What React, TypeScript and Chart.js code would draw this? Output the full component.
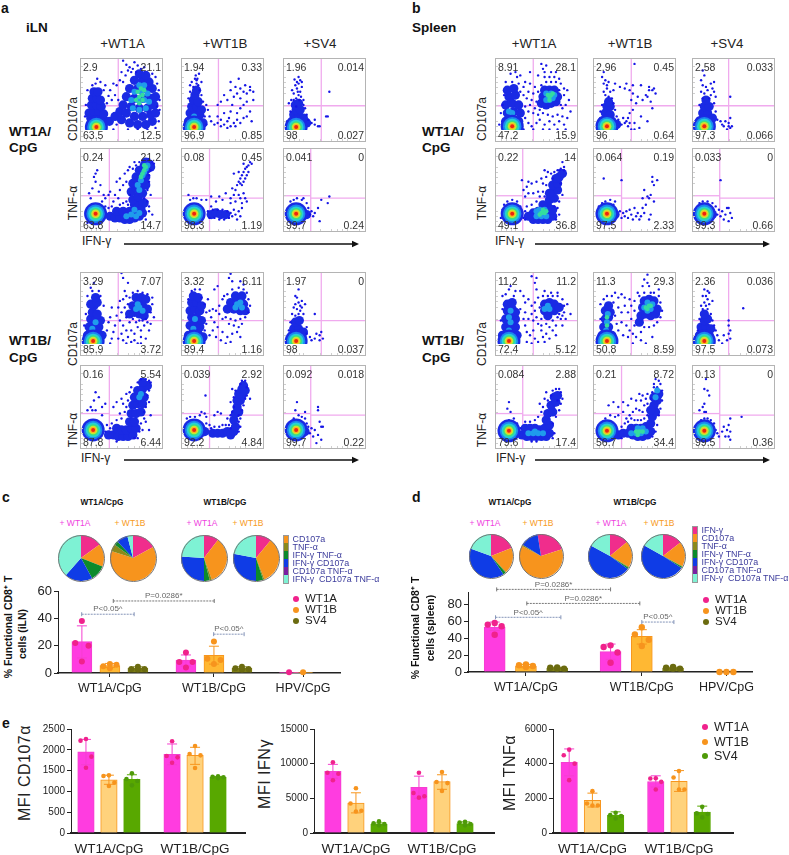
import React, { useEffect, useRef } from "react";
import { Chart, registerables } from "chart.js";
Chart.register(...registerables);

/* ---------- flow cytometry panels: x,y pairs on a 0-100 plot scale ---------- */
const a11Q = ["2.9", "21.1", "63.5", "12.5"];
const a11Gate = [46, 43, 43];
const a11Core = [19, 17];
const a11Cloud = [12,28,18,28,25,28,30,24,10,34,16,36,22,36,28,33,13,44,19,44,25,42,14,52,20,52,16,60,21,60,24,50,35,24,42,30,50,26,60,22,70,20,80,20,88,24,48,36,56,34,66,30,76,30,86,32,92,34,52,44,62,42,72,40,82,40,90,44,56,54,66,52,76,52,86,52,92,54,60,64,70,64,80,64,88,64,66,74,76,74,84,72,72,82,80,80];
const a11Mid = [64,40,72,38,80,40,62,50,70,50,78,50,84,48,66,60,74,60,82,58,72,68,78,68];
const a11Warm = [68,50,72,54,76,56,70,60,74,64,76,50,72,46,78,62];
const a11Dots = [52,98,56,93,60,90,64,88,70,92,66,96,74,88,78,90,58,86,50,84,55,80,62,84,68,84,48,74,52,72,44,68,88,82,92,78,94,70,96,62,97,50,94,42,97,38,40,70,36,62,34,55,30,68,24,72,18,70,14,68,20,76,8,62,6,44,5,30,38,50,42,56,46,50,58,14,70,14,82,14,92,16,96,24,44,20,40,14,28,62,32,46];

const a12Q = ["1.94", "0.33", "96.9", "0.85"];
const a12Gate = [45, 43, 43];
const a12Core = [15, 17];
const a12Cloud = [8,24,14,28,20,26,26,22,10,34,16,36,22,32,12,42,18,42,24,38,14,50,20,48,16,56,18,62];
const a12Mid = [15,30];
const a12Warm: number[] = [];
const a12Dots = [14,66,18,70,12,72,16,76,20,68,22,62,10,60,8,52,24,56,26,48,10,68,19,76,24,72,17,80,21,82,18,74,36,24,40,20,44,22,48,26,52,20,56,24,60,18,64,22,68,26,72,22,76,28,48,18,56,16,44,30,52,34,60,36,68,34,72,40,76,44,80,48,84,36,80,30,86,24,88,60,84,62,80,58,76,60,72,64,68,58,64,54,60,62,56,50,52,56,48,48,44,44,60,72,70,76,66,66,78,68,84,66,88,50,62,44,72,52,58,28,66,18,34,30,32,38,30,44,28,30,30,20];

const a13Q = ["1.96", "0.014", "98", "0.027"];
const a13Gate = [46, 43, 43];
const a13Core = [15, 17];
const a13Cloud = [10,24,16,26,22,22,28,22,12,32,18,32,24,28,15,38,20,38,14,44,18,46];
const a13Mid: number[] = [];
const a13Warm: number[] = [];
const a13Dots = [15,52,18,56,12,58,20,60,16,64,14,68,18,70,22,66,10,62,24,50,26,40,28,32,30,26,34,22,38,20,42,18,38,26,6,46,8,36,4,24,16,72,20,74,13,75,18,78,22,72,17,60,21,54,9,50,12,50,24,44,56,60,52,30,54,30,44,18,15,42,19,50];

const a21Q = ["0.24", "21.2", "63.8", "14.7"];
const a21Gate = [35, 43, 40];
const a21Core = [18, 21];
const a21Cloud = [36,18,42,16,48,16,54,14,60,14,66,16,72,18,76,22,44,24,52,24,60,24,68,24,74,28,78,34,72,36,66,32,64,38,70,42,76,46,62,48,68,52,74,54,80,56,64,58,70,60,76,62,80,66,68,66,74,70,78,72,82,76,72,74,78,80,84,82,86,78,80,84];
const a21Mid = [62,20,68,18,56,18,72,22,74,62,76,68,78,72,80,76,70,56,72,50,66,26,82,80];
const a21Warm = [76,70,78,74,80,78,74,66,78,80];
const a21Dots = [84,88,88,84,90,82,86,74,84,68,84,60,82,50,78,40,82,36,84,30,80,14,46,40,42,44,48,50,52,56,56,60,48,64,44,60,54,70,58,74,60,78,64,76,68,80,66,84,72,84,76,86,18,60,16,66,18,70,14,52,22,48,24,56,28,44,30,40,10,46,12,40,26,36,30,30,34,28,38,30,40,36,34,44,36,48,20,74,8,10,84,24,88,20,86,44,60,44,56,36,52,34,48,32,58,32];

const a22Q = ["0.08", "0.45", "98.3", "1.19"];
const a22Gate = [34, 43, 40];
const a22Core = [15, 21];
const a22Cloud = [36,20,42,22,48,20,54,20];
const a22Mid: number[] = [];
const a22Warm: number[] = [];
const a22Dots = [32,24,34,16,38,26,40,16,44,26,46,14,50,26,52,14,56,24,58,16,60,22,62,18,64,26,66,20,68,14,70,24,72,18,74,28,36,30,60,40,64,44,66,50,62,52,68,56,70,60,72,64,74,68,76,72,78,76,80,78,82,80,84,84,86,82,72,58,74,56,76,60,78,64,80,68,82,72,70,44,72,40,76,46,78,40,74,34,80,36,66,36,60,34,54,46,50,38,46,42,42,36,64,70,70,72,76,82,30,38,24,38,14,40,18,40,10,38,8,44,36,42];

const a23Q = ["0.041", "0", "99.7", "0.24"];
const a23Gate = [33, 43, 40];
const a23Core = [15, 21];
const a23Cloud = [28,20];
const a23Mid: number[] = [];
const a23Warm: number[] = [];
const a23Dots = [28,22,32,20,34,24,30,28,36,18,38,22,28,34,22,38,16,40,12,38,8,36,24,40,42,28,46,38,44,12,56,42,54,34];

const a31Q = ["3.29", "7.07", "85.9", "3.72"];
const a31Gate = [46, 42, 42];
const a31Core = [15, 17];
const a31Cloud = [8,24,14,26,20,26,26,24,10,34,16,36,22,34,12,44,18,44,24,42,14,52,20,50,16,60,12,62,20,64,18,70,66,52,72,50,78,48,64,60,70,62,76,60,82,56,68,70,74,70,80,68,60,50];
const a31Mid = [16,26,14,32,18,40,68,56,72,58,76,54,70,62];
const a31Warm: number[] = [];
const a31Dots = [44,48,48,42,52,36,56,30,50,26,46,20,52,18,58,22,62,30,66,26,70,34,74,30,78,36,82,40,86,38,60,40,64,44,68,40,72,42,76,42,80,44,56,46,50,52,46,58,54,58,58,62,42,36,40,28,38,20,36,14,56,14,62,16,70,14,66,18,74,22,60,70,56,72,54,78,64,76,70,78,76,76,82,74,88,70,88,62,86,52,90,46,84,30,74,14,80,20,52,68,48,66,36,46,38,58,32,30,34,40,8,72,22,78,14,78,12,82,16,88,24,72,28,60,6,50,4,36,52,94,58,88,50,100];

const a32Q = ["3.32", "6.11", "89.4", "1.16"];
const a32Gate = [45, 42, 42];
const a32Core = [15, 17];
const a32Cloud = [8,24,14,28,20,26,26,22,10,36,16,38,22,34,12,46,18,46,24,42,10,54,16,56,22,54,12,64,18,64,24,60,14,72,20,70,56,56,64,56,72,54,78,54,60,64,68,64,76,62,66,72,74,72];
const a32Mid = [14,32,16,44,68,62,72,64,66,58,74,58];
const a32Warm: number[] = [];
const a32Dots = [30,52,34,54,38,56,42,54,46,60,50,68,52,72,46,50,50,44,54,46,60,44,66,42,72,44,78,46,82,52,84,60,82,68,80,76,76,80,70,82,62,80,56,74,58,38,64,36,70,34,74,38,68,28,62,26,56,22,50,28,44,34,40,40,36,46,38,30,42,22,34,24,48,18,54,14,72,22,60,16,28,30,30,38,24,70,28,62,22,80,16,80,12,78,8,68,58,94,60,99,62,90,44,84,40,80,72,90,76,86,32,68];

const a33Q = ["1.97", "0", "98", "0.037"];
const a33Gate = [46, 42, 42];
const a33Core = [15, 17];
const a33Cloud = [10,24,16,26,22,22,12,32,18,32,24,28,14,40,19,42];
const a33Mid: number[] = [];
const a33Warm: number[] = [];
const a33Dots = [14,48,18,50,20,54,16,56,12,58,22,58,24,50,14,62,18,64,22,66,20,60,26,62,10,50,8,40,6,30,28,34,28,26,32,22,34,18,38,20,44,24,46,28,44,18,40,26,16,70,18,80,14,72,38,50,48,20];

const a41Q = ["0.16", "5.54", "87.8", "6.44"];
const a41Gate = [35, 42, 40];
const a41Core = [15, 22];
const a41Cloud = [34,16,40,16,46,14,52,14,58,14,64,16,44,24,50,22,56,22,62,24,68,24,60,32,66,32,62,42,68,42,74,44,64,52,70,54,76,54,66,62,72,64,78,62,70,70,76,72,82,76,76,80];
const a41Mid = [72,62,74,66];
const a41Warm: number[] = [];
const a41Dots = [36,24,32,28,30,20,38,30,44,34,50,36,48,42,54,44,56,50,52,54,58,58,50,60,44,56,40,50,56,66,60,68,62,74,70,80,74,84,80,84,84,82,86,80,84,70,82,64,84,56,80,50,78,44,78,36,74,30,72,20,76,22,80,32,86,40,84,22,18,46,14,46,12,50,16,58,22,62,26,50,30,54,18,68,8,46,26,40,66,12,70,12,44,8];

const a42Q = ["0.039", "2.92", "92.2", "4.84"];
const a42Gate = [34, 42, 40];
const a42Core = [15, 22];
const a42Cloud = [28,20,38,18,44,18,50,18,56,20,60,16,64,20,66,26,64,34,66,42,68,50,70,44,68,58,72,58,74,64,70,66,74,72,76,76,78,70];
const a42Mid: number[] = [];
const a42Warm: number[] = [];
const a42Dots = [30,30,34,28,36,24,40,26,46,26,50,28,54,28,58,28,60,24,70,20,72,26,70,32,72,36,70,40,64,50,62,44,74,46,76,52,78,60,80,64,80,74,78,82,74,82,72,78,66,70,64,62,60,56,62,72,60,40,56,36,84,60,28,42,22,40,16,38,10,38,6,36,30,38,29,64,24,44,40,40,48,42,44,44];

const a43Q = ["0.092", "0.018", "99.7", "0.22"];
const a43Gate = [33, 42, 40];
const a43Core = [15, 22];
const a43Cloud = [26,20];
const a43Mid: number[] = [];
const a43Warm: number[] = [];
const a43Dots = [12,36,18,40,22,38,26,36,28,30,30,26,32,18,34,24,36,14,38,22,42,16,46,10,48,26,44,32,46,26,16,56,14,46,40,6,26,44,42,46,42,50];

const b11Q = ["8.91", "28.1", "47.2", "15.9"];
const b11Gate = [46, 43, 43];
const b11Core = [20, 18];
const b11Cloud = [12,24,20,26,28,24,14,34,22,36,30,34,12,44,20,46,28,44,16,54,24,56,14,62,22,64,56,46,62,44,68,46,74,48,58,54,64,54,70,56,76,54,60,62,66,62,72,62];
const b11Mid = [62,50,66,50,70,52,62,58,68,58,72,56,16,36,20,34,18,26];
const b11Warm = [66,54,68,56,64,56,70,58,66,50];
const b11Dots = [36,28,40,22,44,18,50,22,54,26,60,20,66,24,72,20,78,24,84,20,88,28,82,30,76,32,70,30,64,32,58,34,52,32,46,34,40,36,36,42,42,44,48,40,54,38,50,48,44,50,38,52,34,56,40,60,46,58,52,60,48,66,42,70,34,66,30,60,28,70,20,72,12,72,10,56,8,44,6,34,8,24,36,72,82,40,86,44,90,50,84,56,80,44,78,62,84,64,88,62,80,70,74,72,68,72,62,72,56,68,60,78,66,78,72,78,78,76,58,88,62,92,56,94,60,84,68,84,74,84,52,80,26,78,18,82,24,84,30,80,92,36,66,14,58,14,76,14,86,14,46,14,34,14,4,20,42,84];

const b12Q = ["2.96", "0.45", "96", "0.64"];
const b12Gate = [46, 43, 43];
const b12Core = [16, 18];
const b12Cloud = [10,24,16,26,22,24,28,20,14,34,20,32,16,42,20,42,18,48];
const b12Mid: number[] = [];
const b12Warm: number[] = [];
const b12Dots = [18,54,14,56,22,52,24,46,20,60,12,60,16,64,26,38,28,30,30,26,10,44,8,36,8,28,12,70,14,74,10,78,12,84,18,72,24,62,26,70,16,68,32,66,38,64,40,70,44,62,48,58,46,50,52,46,48,38,44,34,40,24,38,22,42,18,46,14,50,22,44,22,42,28,34,20,36,28,50,14,56,16,66,24,58,30,60,50,54,54,64,56,68,62,70,48,72,40,68,66,72,62,66,54,74,64,76,58,50,94,48,68,58,68];

const b13Q = ["2.58", "0.033", "97.3", "0.066"];
const b13Gate = [44, 43, 43];
const b13Core = [14, 18];
const b13Cloud = [8,24,14,26,20,24,12,34,18,34,24,28,14,42,20,42,16,50];
const b13Mid: number[] = [];
const b13Warm: number[] = [];
const b13Dots = [12,52,20,52,14,58,22,56,10,60,18,62,24,64,22,70,12,68,10,74,14,80,12,86,16,66,26,60,26,46,28,36,30,26,34,24,36,20,38,18,40,24,42,14,44,22,46,16,48,18,46,28,44,18,28,54,46,54,8,44,6,28,26,72];

const b21Q = ["0.22", "14", "49.1", "36.8"];
const b21Gate = [33, 43, 40];
const b21Core = [20, 21];
const b21Cloud = [46,14,52,14,58,14,64,14,46,22,52,24,58,24,64,22,70,18,40,18,70,26,64,30,58,32,66,38,72,40,70,48,76,50,66,46,70,56,76,58,74,64,78,66,82,70];
const b21Mid = [50,18,56,18,62,18,54,26,60,26,50,24];
const b21Warm = [56,22,60,22,58,26,62,24,54,20];
const b21Dots = [34,16,36,24,38,30,30,30,26,36,20,38,14,36,10,32,8,26,6,16,36,14,44,32,50,36,54,42,58,48,62,56,58,58,52,48,46,46,40,46,36,42,34,50,38,54,44,58,50,60,56,64,62,66,68,70,72,72,76,74,80,76,84,78,82,84,84,74,78,74,70,64,64,72,60,74,72,30,76,28,78,36,82,44,80,58,78,20,74,14,40,60,32,62,60,42];

const b22Q = ["0.064", "0.19", "97.5", "2.33"];
const b22Gate = [34, 43, 40];
const b22Core = [16, 21];
const b22Cloud = [26,20];
const b22Mid: number[] = [];
const b22Warm: number[] = [];
const b22Dots = [32,24,34,16,36,22,38,18,40,24,42,16,44,26,46,20,48,14,50,28,52,18,54,22,56,14,58,18,60,28,62,22,64,32,68,14,70,20,74,36,70,44,66,42,60,40,62,50,68,40,74,56,72,60,78,62,72,66,26,36,20,38,14,36,10,34,24,32,6,30,6,14,12,64,34,62];

const b23Q = ["0.033", "0", "99.3", "0.66"];
const b23Gate = [33, 43, 40];
const b23Core = [14, 21];
const b23Cloud = [24,20];
const b23Mid: number[] = [];
const b23Warm: number[] = [];
const b23Dots = [8,34,12,36,18,36,24,34,28,30,30,20,32,26,34,18,36,24,38,14,40,20,42,28,44,12,46,22,48,16,44,28,34,62];

const b31Q = ["11.2", "11.2", "72.4", "5.12"];
const b31Gate = [46, 42, 42];
const b31Core = [16, 17];
const b31Cloud = [8,24,14,26,20,26,26,24,12,34,18,36,24,34,12,44,18,46,24,44,14,54,20,56,24,52,14,62,20,64,60,54,66,56,72,54,60,62,66,64,72,62,78,58,64,48];
const b31Mid = [16,30,18,40,16,46,18,54,66,56,64,60,60,56];
const b31Warm: number[] = [];
const b31Dots = [36,52,40,44,44,50,46,42,50,46,52,38,36,36,38,28,42,24,46,30,48,20,52,16,56,30,58,22,62,26,66,20,70,30,74,36,70,42,76,46,80,44,78,50,84,52,84,60,88,62,82,68,76,72,70,72,64,72,58,72,52,70,48,64,44,60,40,68,36,64,34,72,54,58,48,54,56,44,62,38,56,36,66,34,60,16,74,24,44,14,38,16,30,78,24,78,16,80,12,74,8,72,22,72,18,84,60,78,68,76,76,76,82,48,86,44,50,80,8,56,6,42,30,56,44,96,50,94,48,88,82,36,92,50,34,44];

const b32Q = ["11.3", "29.3", "50.8", "8.59"];
const b32Gate = [46, 42, 42];
const b32Core = [16, 17];
const b32Cloud = [10,24,16,26,22,24,12,34,18,34,14,44,18,46,20,52,14,54,18,60,58,48,64,50,70,48,76,50,60,58,66,60,72,58,78,56,62,66,68,68,74,66,56,40];
const b32Mid = [15,30,16,40,17,50,62,58,66,54,70,56,66,64,72,62];
const b32Warm = [16,36,16,46,64,58,68,60,66,56,70,60];
const b32Dots = [30,58,34,52,38,60,42,52,46,44,50,36,44,30,40,36,34,40,30,30,36,24,42,22,48,26,52,22,58,28,62,34,68,34,74,36,78,40,82,46,84,54,82,64,80,72,74,76,70,76,62,76,56,72,50,66,46,60,50,54,44,68,38,70,34,74,30,70,26,76,22,72,16,72,12,68,8,62,8,44,24,64,26,48,28,38,68,84,66,88,60,84,66,98,62,92,54,76,80,80,58,18,48,14,64,14,72,22];

const b33Q = ["2.36", "0.036", "97.5", "0.073"];
const b33Gate = [44, 42, 42];
const b33Core = [14, 17];
const b33Cloud = [8,24,14,26,20,24,10,34,16,34,22,32,14,42,18,44,14,50];
const b33Mid: number[] = [];
const b33Warm: number[] = [];
const b33Dots = [12,56,18,56,16,60,14,64,20,62,18,68,10,60,22,50,24,42,26,36,28,30,30,24,32,18,16,72,12,72,18,78,14,80,20,76,24,66,8,44,6,30,38,24,36,14,44,36,46,30,44,26,46,20,42,18,44,42,62,57];

const b41Q = ["0.084", "2.88", "79.6", "17.4"];
const b41Gate = [33, 42, 40];
const b41Core = [16, 21];
const b41Cloud = [32,16,38,14,44,14,50,14,56,14,62,14,66,18,36,24,42,24,48,24,54,22,60,24,66,28,62,34,64,42,70,44,68,52,74,56,72,62,76,64];
const b41Mid = [40,18,46,18,52,18,58,18,48,20];
const b41Warm: number[] = [];
const b41Dots = [30,24,26,30,22,36,16,34,12,30,8,24,36,32,42,32,48,34,52,38,56,44,58,50,54,54,60,60,64,58,68,64,70,70,74,72,78,72,80,68,76,58,80,54,78,46,74,38,70,30,72,18,70,12,82,60,62,68,16,56,18,44,14,48,50,8,44,8];

const b42Q = ["0.21", "8.72", "56.7", "34.4"];
const b42Gate = [34, 42, 40];
const b42Core = [16, 21];
const b42Cloud = [30,16,36,18,42,18,48,16,54,14,60,14,66,16,70,20,46,24,52,24,58,24,64,26,70,30,72,38,76,44,74,52,78,58,80,66,74,62,70,46];
const b42Mid = [46,18,52,18,58,18,64,20,54,24,60,24,76,62,78,70];
const b42Warm = [52,20,56,20,60,20,54,16];
const b42Dots = [34,26,38,30,42,32,46,36,50,34,54,34,58,34,62,36,66,40,60,44,56,46,52,48,48,44,44,40,40,36,36,44,30,40,26,38,20,40,14,36,10,30,24,56,18,52,30,50,36,56,42,52,46,60,52,58,58,58,62,52,66,54,70,60,66,66,60,64,56,66,72,68,74,74,78,74,82,78,80,82,76,84,74,78,84,70,84,58,82,48,80,40,78,28,76,20,72,14,34,12,64,60];

const b43Q = ["0.13", "0", "99.5", "0.36"];
const b43Gate = [33, 42, 40];
const b43Core = [14, 21];
const b43Cloud = [22,20];
const b43Mid: number[] = [];
const b43Warm: number[] = [];
const b43Dots = [10,34,14,36,18,36,22,34,26,30,14,44,12,50,16,44,28,22,30,18,32,14,36,20,38,26,40,14,42,22,44,28,46,10,46,20,44,14,14,54,14,72,16,84,18,70,20,64,8,46,60,38,46,36];

const frameTicks = [6, 12, 18, 24, 44, 58, 66, 72, 78, 92];

/* ---------- pies ---------- */
const pieLabels = ["IFN-γ", "CD107a", "TNF-α", "IFN-γ TNF-α", "IFN-γ CD107a", "CD107a TNF-α", "IFN-γ  CD107a TNF-α"];
const pieC1 = [15, 16, 0, 11, 19.5, 0, 38.5];
const pieC2 = [17, 63, 5, 3, 8, 0, 4];
const pieC3 = [10.5, 34, 1.5, 4, 26, 0, 24];
const pieC4 = [11, 33, 1, 5, 28, 0, 22];
const pieD1 = [19, 19, 0.5, 2, 40, 0, 19.5];
const pieD2 = [22.5, 62.8, 1, 0, 13.7, 0, 0];
const pieD3 = [14, 19.4, 0.6, 1, 48, 0, 17];
const pieD4 = [14.4, 18.3, 0.5, 1, 49, 0, 16.8];

/* ---------- bar charts ---------- */
const cCategories = ["WT1A/CpG", "WT1B/CpG", "HPV/CpG"];
const cWT1A = [23, 9.5, 0.5];
const cWT1B = [5.5, 13, 0.5];
const cSV4 = [3.5, 3.5, null];
const cWT1AErr = [[11, 34.5], [5, 13.2], null];
const cWT1BErr = [[4, 7], [6.5, 19.6], null];
const cSV4Err = [[2.5, 4.5], [2.5, 4.5], null];
const cWT1ADots = [[38, 22, 20, 8.5], [15, 8, 8, 4], [0.5]];
const cWT1BDots = [[6.5, 5, 6, 3.5], [23, 10.5, 9.5, 6.6], [0.5]];
const cSV4Dots = [[4.5, 3, 3, 2.5], [4.5, 3.5, 3, 2.5], []];

const dCategories = ["WT1A/CpG", "WT1B/CpG", "HPV/CpG"];
const dWT1A = [53, 24, null];
const dWT1B = [7, 42, 0];
const dSV4 = [4.5, 4.5, null];
const dWT1AErr = [[49, 59], [15, 33], null];
const dWT1BErr = [[5, 9], [33, 50], null];
const dSV4Err = [[3.5, 5.5], [3.5, 5.5], null];
const dWT1ADots = [[58, 56, 54, 44], [31.5, 29.5, 23, 11], []];
const dWT1BDots = [[9, 8, 7, 6], [52.8, 44.5, 38, 30.7], [0, 0, 0]];
const dSV4Dots = [[5.5, 5, 4, 4], [6, 5, 4, 4], []];

const eCategories = ["WT1A/CpG", "WT1B/CpG"];
const e1WT1A = [1950, 1890];
const e1WT1B = [1280, 1870];
const e1SV4 = [1290, 1340];
const e1WT1AErr = [[1640, 2250], [1640, 2140]];
const e1WT1BErr = [[1170, 1390], [1650, 2060]];
const e1SV4Err = [[1180, 1400], [1320, 1360]];
const e1WT1ADots = [[2260, 2220, 1835, 1570], [2204, 1851, 1819, 1690]];
const e1WT1BDots = [[1386, 1370, 1210, 1130], [2091, 1900, 1867, 1562]];
const e1SV4Dots = [[1434, 1298, 1250, 1146], [1360, 1350, 1340, 1320]];

const e2WT1A = [8900, 6600];
const e2WT1B = [4300, 7400];
const e2SV4 = [1250, 1350];
const e2WT1AErr = [[7900, 9900], [5000, 8200]];
const e2WT1BErr = [[2900, 5800], [6300, 8400]];
const e2SV4Err = [[1050, 1450], [1100, 1600]];
const e2WT1ADots = [[10200, 8700, 8550, 7600], [8700, 5780, 5300, 5100]];
const e2WT1BDots = [[6450, 4250, 3200, 3100], [8800, 7350, 7200, 6070]];
const e2SV4Dots = [[1670, 1385, 1290, 1100], [1600, 1500, 1300, 1100]];

const e3WT1A = [4080, 2970];
const e3WT1B = [1880, 2980];
const e3SV4 = [1040, 1200];
const e3WT1AErr = [[3300, 4850], [2650, 3300]];
const e3WT1BErr = [[1500, 2300], [2400, 3600]];
const e3SV4Err = [[860, 1220], [850, 1550]];
const e3WT1ADots = [[4810, 4485, 4000, 3050], [3160, 3140, 2950, 2510]];
const e3WT1BDots = [[2415, 1700, 1590, 1590], [3580, 3200, 2510, 2510]];
const e3SV4Dots = [[1170, 1035, 980, 840], [1510, 1130, 1090, 900]];

const seriesNames = ["WT1A", "WT1B", "SV4"];

/* ---------- helpers ---------- */
const FONT = "'Liberation Sans', Arial, sans-serif";
const xy = (flat: number[]) => {
  const out: any[] = [];
  for (let i = 0; i < flat.length; i += 2) out.push({ x: flat[i], y: flat[i + 1] });
  return out;
};

function ChartBox({ left, top, width, height, make }: any) {
  const ref = useRef<HTMLCanvasElement>(null);
  useEffect(() => {
    const c = new Chart(ref.current as any, make());
    return () => c.destroy();
  }, []);
  return (
    <canvas ref={ref} width={width} height={height}
      style={{ position: "absolute", left, top, width, height, display: "block" }} />
  );
}

function T({ x, y, s = 11, c = "#222", b = false, a = "c", r = false, children, ls }: any) {
  const tx = a === "c" ? "-50%" : "0";
  return (
    <div style={{
      position: "absolute", left: x, top: y, whiteSpace: "pre", fontFamily: FONT, fontSize: s, color: c,
      fontWeight: b ? 700 : 400, lineHeight: 1, letterSpacing: ls,
      transform: `translate(${tx},-50%)${r ? " rotate(-90deg)" : ""}`,
    }}>{children}</div>
  );
}

const RINGS: any[] = [
  [11.5, "#1a2ae4"], [9.2, "#1c86ee"], [7.4, "#24d0d8"], [5.8, "#3fe07c"],
  [4.3, "#c4ea34"], [3.1, "#fbb81c"], [2, "#ec2410"],
];

const tickPlugin = {
  id: "frameTicks",
  afterDraw(ch: any) {
    const { ctx, chartArea: a, scales } = ch;
    ctx.save();
    ctx.strokeStyle = "#cfcfcf";
    ctx.lineWidth = 1;
    for (const v of frameTicks) {
      const px = Math.round(scales.x.getPixelForValue(v)) + 0.5;
      ctx.beginPath(); ctx.moveTo(px, a.bottom); ctx.lineTo(px, a.bottom - 2); ctx.stroke();
      const py = Math.round(scales.y.getPixelForValue(v)) + 0.5;
      ctx.beginPath(); ctx.moveTo(a.left, py); ctx.lineTo(a.left + 2, py); ctx.stroke();
    }
    ctx.restore();
  },
};

function Flow({ left, top, q, gate, core, cloud, mid, warm, dots, clipBottom }: any) {
  const W = 81, H = 82;
  const make = () => {
    const clip = clipBottom ? { left: 0, top: 0, right: 0, bottom: -11 } : { left: 0, top: 0, right: 0, bottom: 0 };
    const [v, hL, hR] = gate;
    const pt = (data: any[], r: number, color: string, order: number) => ({
      type: "scatter", data, pointRadius: r, pointBackgroundColor: color, pointBorderWidth: 0, pointHoverRadius: r, order, clip,
    });
    const g = (data: any[]) => ({
      type: "scatter", showLine: true, data, borderColor: "#f0aaee", borderWidth: 1.3, pointRadius: 0, order: 100,
    });
    const rings = RINGS.map(([r, color], i) => pt(xy(core), r, color, 7 - i));
    return {
      type: "scatter",
      data: {
        datasets: [
          g([{ x: v, y: 0 }, { x: v, y: 100 }]),
          g([{ x: 0, y: hL }, { x: v, y: hL }]),
          g([{ x: v, y: hR }, { x: 100, y: hR }]),
          pt(xy(cloud), 4.6, "#1a2ae4", 30),
          pt(xy(dots), 1.2, "#1616e6", 25),
          pt(xy(mid), 3, "#1f9cec", 20),
          pt(xy(warm), 2.3, "#34dca0", 15),
          ...rings,
        ],
      },
      options: {
        responsive: false, animation: false, events: [],
        layout: { padding: 0, autoPadding: false },
        plugins: { legend: { display: false }, tooltip: { enabled: false } },
        scales: {
          x: { type: "linear", min: 0, max: 100, display: false },
          y: { type: "linear", min: 0, max: 100, display: false },
        },
      },
      plugins: [tickPlugin],
    };
  };
  return (
    <>
      <ChartBox left={left} top={top} width={W} height={H} make={make} />
      <div style={{ position: "absolute", left: left - 1, top: top - 1, width: W + 2, height: H + 2, boxSizing: "border-box", border: "1.5px solid #b4b4b4" }} />
      <T x={left + 2} y={top + 8} s={10.5} a="l" c="#333">{q[0]}</T>
      <div style={{ position: "absolute", right: 789 - (left + W - 1), top: top + 3, fontFamily: FONT, fontSize: 10.5, lineHeight: 1, color: "#333" }}>{q[1]}</div>
      <T x={left + 2} y={top + H - 6} s={10.5} a="l" c="#333">{q[2]}</T>
      <div style={{ position: "absolute", right: 789 - (left + W - 1), top: top + H - 11, fontFamily: FONT, fontSize: 10.5, lineHeight: 1, color: "#333" }}>{q[3]}</div>
    </>
  );
}

const PIE_COLORS = ["#f02d8c", "#f7941d", "#8a8a1c", "#0c8a2c", "#0f3ce6", "#7a1fa2", "#7ef2d4"];

function Pie({ cx, cy, r, values, rotation = 0 }: any) {
  const size = r * 2;
  const make = () => ({
    type: "pie",
    data: { labels: pieLabels, datasets: [{ data: values, backgroundColor: PIE_COLORS, borderWidth: 0 }] },
    options: {
      responsive: false, animation: false, events: [], rotation,
      layout: { padding: 0 },
      plugins: { legend: { display: false }, tooltip: { enabled: false } },
    },
  });
  return (
    <>
      <ChartBox left={cx - r} top={cy - r} width={size} height={size} make={make} />
      <div style={{ position: "absolute", left: cx - r - 0.5, top: cy - r - 0.5, width: size + 1, height: size + 1, boxSizing: "border-box", borderRadius: "50%", border: "1px solid #777" }} />
    </>
  );
}

const JITTER: any = { 1: [0], 3: [-0.33, 0, 0.33], 4: [0, -0.33, 0.33, 0] };

const errorPlugin = {
  id: "errs",
  afterDatasetDraw(ch: any, args: any) {
    const ds = ch.data.datasets[args.index];
    if (!ds.errors) return;
    const { ctx, scales } = ch;
    ctx.save();
    ctx.strokeStyle = ds.errColor;
    ctx.lineWidth = 1;
    ds.data.forEach((d: any, i: number) => {
      const e = ds.errors[i];
      if (!e || d.y == null) return;
      const px = scales.x.getPixelForValue(d.x);
      const lo = scales.y.getPixelForValue(e[0]);
      const hi = scales.y.getPixelForValue(e[1]);
      ctx.beginPath();
      ctx.moveTo(px, lo); ctx.lineTo(px, hi);
      ctx.moveTo(px - 5, hi); ctx.lineTo(px + 5, hi);
      ctx.moveTo(px - 5, lo); ctx.lineTo(px + 5, lo);
      ctx.stroke();
    });
    ctx.restore();
  },
};

function Bars({ left, right, top, bottom, yMax, step, categories, centers, spacing, spread, barW, series, brackets = [], tickFont, catFont, ticksOnX, xBorder = 1.5, dotR, ml = 50, mt = 12 }: any) {
  const mb = 24, mr = 8;
  const plotW = right - left;
  const make = () => {
    const toPct = (px: number) => (px / plotW) * 100;
    const datasets: any[] = [];
    series.forEach((s: any, si: number) => {
      const off = (si - 1) * spacing;
      const xs = centers.map((c: number, gi: number) => c + off * (spread ? spread[gi] : 1));
      datasets.push({
        type: "bar", label: s.name, grouped: false, barThickness: barW, order: 5,
        data: s.values.map((v: any, i: number) => ({ x: xs[i], y: v })),
        backgroundColor: s.fill, borderColor: s.stroke, borderWidth: 1,
        errors: s.errors, errColor: s.stroke,
      });
      const pts: any[] = [];
      s.dots.forEach((vals: number[], gi: number) => {
        const j = JITTER[vals.length] || [];
        vals.forEach((v, k) => pts.push({ x: xs[gi] + toPct((j[k] || 0) * barW), y: v }));
      });
      datasets.push({
        type: "scatter", label: s.name + " points", data: pts, pointRadius: dotR, pointBackgroundColor: s.dot,
        pointBorderWidth: 0, order: 1, clip: false,
      });
    });
    const bracketPlugin = {
      id: "brackets",
      afterDraw(ch: any) {
        const { ctx, scales } = ch;
        ctx.save();
        for (const [x1, x2, y, label, color] of brackets) {
          const a = scales.x.getPixelForValue(x1), b = scales.x.getPixelForValue(x2), p = scales.y.getPixelForValue(y);
          ctx.strokeStyle = color; ctx.lineWidth = 1; ctx.setLineDash([2, 1]);
          ctx.beginPath(); ctx.moveTo(a, p); ctx.lineTo(b, p); ctx.stroke();
          ctx.setLineDash([]);
          ctx.beginPath(); ctx.moveTo(a, p - 2); ctx.lineTo(a, p + 2); ctx.moveTo(b, p - 2); ctx.lineTo(b, p + 2); ctx.stroke();
          ctx.fillStyle = "#666"; ctx.font = `8px ${FONT}`; ctx.textAlign = "center"; ctx.textBaseline = "bottom";
          ctx.fillText(label, (a + b) / 2, p - 1);
        }
        ctx.restore();
      },
    };
    return {
      type: "bar",
      data: { datasets },
      options: {
        responsive: false, animation: false, events: [],
        layout: { padding: { top: mt, right: mr, left: 0, bottom: 0 }, autoPadding: false },
        plugins: { legend: { display: false }, tooltip: { enabled: false } },
        scales: {
          x: {
            type: "linear", min: 0, max: 100, offset: false,
            grid: { display: true, drawOnChartArea: false, offset: false, tickLength: 4, tickColor: ticksOnX ? "#222" : "rgba(0,0,0,0)" },
            border: { color: "#222", width: xBorder },
            afterBuildTicks: (ax: any) => { ax.ticks = centers.map((v: number) => ({ value: v })); },
            afterFit: (ax: any) => { ax.height = mb; },
            ticks: {
              autoSkip: false, maxRotation: 0, minRotation: 0, padding: 4, color: "#222",
              font: { family: FONT, size: catFont },
              callback: (v: number) => categories[centers.indexOf(v)] ?? "",
            },
          },
          y: {
            type: "linear", min: 0, max: yMax,
            grid: { display: true, drawOnChartArea: false, tickLength: 4, tickColor: "#222" },
            border: { color: "#222", width: 1 },
            afterFit: (ax: any) => { ax.width = ml; },
            ticks: { stepSize: step, includeBounds: false, padding: 2, color: "#222", font: { family: FONT, size: tickFont }, callback: (v: number) => String(v) },
          },
        },
      },
      plugins: [errorPlugin, bracketPlugin],
    };
  };
  return <ChartBox left={left - ml} top={top - mt} width={plotW + ml + mr} height={bottom - top + mt + mb} make={make} />;
}

const mkSeries = (vals: any[], errs: any[], dots: any[], sv4Fill: string, sv4Stroke: string, sv4Dot: string, bFill: string) => [
  { name: seriesNames[0], values: vals[0], errors: errs[0], dots: dots[0], fill: "#ff3ce0", stroke: "#f53fd0", dot: "#f0228c" },
  { name: seriesNames[1], values: vals[1], errors: errs[1], dots: dots[1], fill: bFill, stroke: "#f7961e", dot: "#f7941d" },
  { name: seriesNames[2], values: vals[2], errors: errs[2], dots: dots[2], fill: sv4Fill, stroke: sv4Stroke, dot: sv4Dot },
];

function DotLegend({ x, ys, colors, s }: any) {
  return (
    <>
      {seriesNames.map((n, i) => (
        <React.Fragment key={n}>
          <div style={{ position: "absolute", left: x - 3, top: ys[i] - 3, width: 6, height: 6, borderRadius: "50%", background: colors[i] }} />
          <T x={x + 9} y={ys[i]} s={s} a="l">{n}</T>
        </React.Fragment>
      ))}
    </>
  );
}

function Arrow({ x1, x2, y }: any) {
  return (
    <svg style={{ position: "absolute", left: x1, top: y - 5, width: x2 - x1, height: 10 }}>
      <line x1={0} y1={5} x2={x2 - x1 - 5} y2={5} stroke="#111" strokeWidth={1.4} />
      <polygon points={`${x2 - x1 - 7},1.8 ${x2 - x1},5 ${x2 - x1 - 7},8.2`} fill="#111" />
    </svg>
  );
}

const colsA = [81, 182, 284];
const colsB = [496, 594, 693];
const rows = [59, 149, 273, 366];

const PANELS: any[] = [
  [colsA[0], rows[0], a11Q, a11Gate, a11Core, a11Cloud, a11Mid, a11Warm, a11Dots, true],
  [colsA[1], rows[0], a12Q, a12Gate, a12Core, a12Cloud, a12Mid, a12Warm, a12Dots, true],
  [colsA[2], rows[0], a13Q, a13Gate, a13Core, a13Cloud, a13Mid, a13Warm, a13Dots, true],
  [colsA[0], rows[1], a21Q, a21Gate, a21Core, a21Cloud, a21Mid, a21Warm, a21Dots, false],
  [colsA[1], rows[1], a22Q, a22Gate, a22Core, a22Cloud, a22Mid, a22Warm, a22Dots, false],
  [colsA[2], rows[1], a23Q, a23Gate, a23Core, a23Cloud, a23Mid, a23Warm, a23Dots, false],
  [colsA[0], rows[2], a31Q, a31Gate, a31Core, a31Cloud, a31Mid, a31Warm, a31Dots, true],
  [colsA[1], rows[2], a32Q, a32Gate, a32Core, a32Cloud, a32Mid, a32Warm, a32Dots, true],
  [colsA[2], rows[2], a33Q, a33Gate, a33Core, a33Cloud, a33Mid, a33Warm, a33Dots, true],
  [colsA[0], rows[3], a41Q, a41Gate, a41Core, a41Cloud, a41Mid, a41Warm, a41Dots, false],
  [colsA[1], rows[3], a42Q, a42Gate, a42Core, a42Cloud, a42Mid, a42Warm, a42Dots, false],
  [colsA[2], rows[3], a43Q, a43Gate, a43Core, a43Cloud, a43Mid, a43Warm, a43Dots, false],
  [colsB[0], rows[0], b11Q, b11Gate, b11Core, b11Cloud, b11Mid, b11Warm, b11Dots, true],
  [colsB[1], rows[0], b12Q, b12Gate, b12Core, b12Cloud, b12Mid, b12Warm, b12Dots, true],
  [colsB[2], rows[0], b13Q, b13Gate, b13Core, b13Cloud, b13Mid, b13Warm, b13Dots, true],
  [colsB[0], rows[1], b21Q, b21Gate, b21Core, b21Cloud, b21Mid, b21Warm, b21Dots, false],
  [colsB[1], rows[1], b22Q, b22Gate, b22Core, b22Cloud, b22Mid, b22Warm, b22Dots, false],
  [colsB[2], rows[1], b23Q, b23Gate, b23Core, b23Cloud, b23Mid, b23Warm, b23Dots, false],
  [colsB[0], rows[2], b31Q, b31Gate, b31Core, b31Cloud, b31Mid, b31Warm, b31Dots, true],
  [colsB[1], rows[2], b32Q, b32Gate, b32Core, b32Cloud, b32Mid, b32Warm, b32Dots, true],
  [colsB[2], rows[2], b33Q, b33Gate, b33Core, b33Cloud, b33Mid, b33Warm, b33Dots, true],
  [colsB[0], rows[3], b41Q, b41Gate, b41Core, b41Cloud, b41Mid, b41Warm, b41Dots, false],
  [colsB[1], rows[3], b42Q, b42Gate, b42Core, b42Cloud, b42Mid, b42Warm, b42Dots, false],
  [colsB[2], rows[3], b43Q, b43Gate, b43Core, b43Cloud, b43Mid, b43Warm, b43Dots, false],
];

function LegendBar({ x, items, ys, colors }: any) {
  const h = (ys[ys.length - 1] - ys[0]) / (ys.length - 1);
  return (
    <>
      {items.map((it: string, i: number) => (
        <React.Fragment key={it + i}>
          <div style={{ position: "absolute", left: x, top: ys[i] - h / 2, width: 5.5, height: h, background: colors[i] }} />
          <T x={x + 9.5} y={ys[i]} s={8.9} a="l" c="#3c3c9c">{it}</T>
        </React.Fragment>
      ))}
      <div style={{ position: "absolute", left: x - 0.5, top: ys[0] - h / 2 - 0.5, width: 6.5, height: h * ys.length + 1, boxSizing: "border-box", border: "0.5px solid #999" }} />
    </>
  );
}

const PINK = "#ef3fe0", ORANGE = "#f79a22";

export default function App() {
  const cS = mkSeries([cWT1A, cWT1B, cSV4], [cWT1AErr, cWT1BErr, cSV4Err], [cWT1ADots, cWT1BDots, cSV4Dots], "#7d7d16", "#7d7d16", "#6b6b10", "#ffb833");
  const dS = mkSeries([dWT1A, dWT1B, dSV4], [dWT1AErr, dWT1BErr, dSV4Err], [dWT1ADots, dWT1BDots, dSV4Dots], "#7d7d16", "#7d7d16", "#6b6b10", "#ffb833");
  const e1S = mkSeries([e1WT1A, e1WT1B, e1SV4], [e1WT1AErr, e1WT1BErr, e1SV4Err], [e1WT1ADots, e1WT1BDots, e1SV4Dots], "#58a800", "#58a800", "#4e9a08", "#ffd27c");
  const e2S = mkSeries([e2WT1A, e2WT1B, e2SV4], [e2WT1AErr, e2WT1BErr, e2SV4Err], [e2WT1ADots, e2WT1BDots, e2SV4Dots], "#58a800", "#58a800", "#4e9a08", "#ffd27c");
  const e3S = mkSeries([e3WT1A, e3WT1B, e3SV4], [e3WT1AErr, e3WT1BErr, e3SV4Err], [e3WT1ADots, e3WT1BDots, e3SV4Dots], "#58a800", "#58a800", "#4e9a08", "#ffd27c");

  const cBr = [
    [19.6, 55.4, 52.7, "P=0.0286*", "#777"],
    [8.4, 27, 43, "P<0.05^", "#8494b8"],
    [55.2, 66, 28.4, "P<0.05^", "#8494b8"],
  ];
  const dBr = [
    [10.1, 50.2, 97.6, "P=0.0286*", "#777"],
    [20.7, 60.5, 81, "P=0.0286*", "#777"],
    [9.7, 32.7, 64.6, "P<0.05^", "#8494b8"],
    [61.2, 72.5, 59, "P<0.05^", "#8494b8"],
  ];

  return (
    <div style={{ position: "absolute", left: 0, top: 0, width: 789, height: 855, background: "#fff", overflow: "hidden", filter: "blur(0.4px)" }}>
      <T x={1} y={8} s={14} b a="l" c="#111">a</T>
      <T x={26} y={28} s={13.5} b a="l" c="#111">iLN</T>
      <T x={412} y={8} s={14} b a="l" c="#111">b</T>
      <T x={412} y={28} s={13.5} b a="l" c="#111">Spleen</T>

      {[["+WT1A", 122.5], ["+WT1B", 225], ["+SV4", 320], ["+WT1A", 534], ["+WT1B", 630], ["+SV4", 727]].map(([t, x]: any, i) => (
        <T key={i} x={x} y={44} s={13.3}>{t}</T>
      ))}

      <T x={9} y={132} s={13.5} b a="l" c="#111">WT1A/</T>
      <T x={9} y={148} s={13.5} b a="l" c="#111">CpG</T>
      <T x={9} y={341} s={13.5} b a="l" c="#111">WT1B/</T>
      <T x={9} y={358} s={13.5} b a="l" c="#111">CpG</T>
      <T x={422} y={132} s={13.5} b a="l" c="#111">WT1A/</T>
      <T x={422} y={148} s={13.5} b a="l" c="#111">CpG</T>
      <T x={422} y={341} s={13.5} b a="l" c="#111">WT1B/</T>
      <T x={422} y={358} s={13.5} b a="l" c="#111">CpG</T>

      {[[73, 119, "CD107a"], [73, 203, "TNF-α"], [73, 344, "CD107a"], [73, 430, "TNF-α"], [482, 119, "CD107a"], [482, 203, "TNF-α"], [482, 344, "CD107a"], [482, 430, "TNF-α"]].map(([x, y, t]: any, i) => (
        <T key={i} x={x} y={y} s={12} r>{t}</T>
      ))}

      <T x={82} y={241} s={12} a="l">IFN-γ</T>
      <T x={81} y={458} s={12} a="l">IFN-γ</T>
      <T x={495} y={241} s={12} a="l">IFN-γ</T>
      <T x={496} y={458} s={12} a="l">IFN-γ</T>
      <Arrow x1={124} x2={359} y={244} />
      <Arrow x1={124} x2={359} y={460} />
      <Arrow x1={535} x2={770} y={244} />
      <Arrow x1={535} x2={770} y={460} />

      {PANELS.map((p, i) => (
        <Flow key={i} left={p[0]} top={p[1]} q={p[2]} gate={p[3]} core={p[4]} cloud={p[5]} mid={p[6]} warm={p[7]} dots={p[8]} clipBottom={p[9]} />
      ))}

      {/* c */}
      <T x={2} y={497} s={14} b a="l" c="#111">c</T>
      <T x={102} y={503} s={8.2} b c="#111">WT1A/CpG</T>
      <T x={225} y={503} s={8.2} b c="#111">WT1B/CpG</T>
      <T x={75} y={523} s={8.5} c={PINK}>+ WT1A</T>
      <T x={130} y={523} s={8.5} c={ORANGE}>+ WT1B</T>
      <T x={202} y={523} s={8.5} c={PINK}>+ WT1A</T>
      <T x={248} y={523} s={8.5} c={ORANGE}>+ WT1B</T>
      <Pie cx={81} cy={558} r={23} values={pieC1} />
      <Pie cx={133} cy={558} r={23} values={pieC2} />
      <Pie cx={204} cy={558} r={23} values={pieC3} />
      <Pie cx={256} cy={558} r={23} values={pieC4} />
      <LegendBar x={283} items={pieLabels.slice(1)} ys={[539, 547, 555, 563, 571, 579]} colors={PIE_COLORS.slice(1)} />
      <T x={8} y={627} s={10.5} b r c="#111">% Functional CD8⁺ T</T>
      <T x={22} y={634} s={10.5} b r c="#111">cells (iLN)</T>
      <Bars left={58} right={340} top={591} bottom={673} yMax={60} step={20}
        categories={cCategories} centers={[18.4, 55.3, 86.9]} spacing={9.93} spread={[1, 1, 0.5]} barW={20}
        series={cS} brackets={cBr} tickFont={13} catFont={12.5} ticksOnX dotR={3} />
      <DotLegend x={296} ys={[599, 610, 621]} colors={["#f0228c", "#f7941d", "#6b6b10"]} s={11.5} />

      {/* d */}
      <T x={412} y={497} s={14} b a="l" c="#111">d</T>
      <T x={510} y={503} s={8.2} b c="#111">WT1A/CpG</T>
      <T x={635} y={503} s={8.2} b c="#111">WT1B/CpG</T>
      <T x={485} y={523} s={8.5} c={PINK}>+ WT1A</T>
      <T x={538} y={523} s={8.5} c={ORANGE}>+ WT1B</T>
      <T x={611} y={523} s={8.5} c={PINK}>+ WT1A</T>
      <T x={659} y={523} s={8.5} c={ORANGE}>+ WT1B</T>
      <Pie cx={491} cy={556} r={22} values={pieD1} />
      <Pie cx={541} cy={556} r={22} values={pieD2} rotation={-9} />
      <Pie cx={610} cy={556} r={22} values={pieD3} />
      <Pie cx={663} cy={556} r={22} values={pieD4} />
      <LegendBar x={692} items={pieLabels} ys={[530, 538, 546, 554, 562, 570, 578]} colors={PIE_COLORS} />
      <T x={415} y={628} s={10.5} b r c="#111">% Functional CD8⁺ T</T>
      <T x={430} y={628} s={10.5} b r c="#111">cells (spleen)</T>
      <Bars left={468} right={752} top={592} bottom={672} yMax={94.5} step={20} mt={14}
        categories={dCategories} centers={[20.4, 61.2, 91]} spacing={11} barW={21}
        series={dS} brackets={dBr} tickFont={13} catFont={12.5} ticksOnX dotR={3.2} />
      <DotLegend x={706} ys={[600, 611, 622]} colors={["#f0228c", "#f7941d", "#6b6b10"]} s={11.5} />

      {/* e */}
      <T x={2} y={723} s={14} b a="l" c="#111">e</T>
      <T x={25} y={773} s={16} r ls="0.5px">MFI CD107α</T>
      <Bars left={71} right={245} top={729} bottom={833} yMax={2500} step={500}
        categories={eCategories} centers={[21.8, 71.3]} spacing={13.2} barW={16.5}
        series={e1S} tickFont={10} catFont={13.5} xBorder={2} dotR={2.3} />
      <T x={265} y={774} s={16} r ls="0.5px">MFI IFNγ</T>
      <Bars left={314} right={494} top={729} bottom={833} yMax={15000} step={5000}
        categories={eCategories} centers={[23.3, 71.1]} spacing={12.8} barW={16.5}
        series={e2S} tickFont={10} catFont={13.5} xBorder={2} dotR={2.3} />
      <T x={510} y={773} s={16} r ls="0.5px">MFI TNFα</T>
      <Bars left={552.5} right={732.5} top={729} bottom={833} yMax={6000} step={2000}
        categories={eCategories} centers={[21.9, 70]} spacing={12.9} barW={16.5}
        series={e3S} tickFont={10} catFont={13.5} xBorder={2} dotR={2.3} />
      <DotLegend x={705} ys={[727, 742, 756]} colors={["#f0228c", "#f7941d", "#4e9a08"]} s={12.5} />
    </div>
  );
}
